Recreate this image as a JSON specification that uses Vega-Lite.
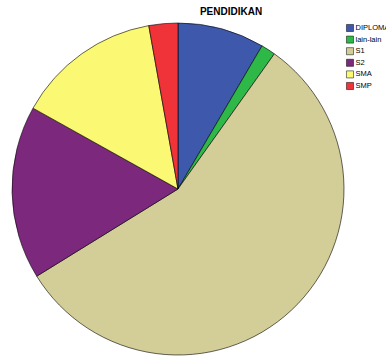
{
  "$schema": "https://vega.github.io/schema/vega-lite/v6.json",
  "width": 332,
  "height": 332,
  "autosize": "none",
  "padding": {"left": 12, "top": 23, "right": 42, "bottom": 1},
  "background": "white",
  "title": {
    "text": "PENDIDIKAN",
    "font": "Liberation Sans",
    "fontSize": 10,
    "fontWeight": "bold",
    "color": "#000000",
    "anchor": "middle",
    "dx": 53,
    "offset": 5
  },
  "data": {
    "values": [
      {"pendidikan": "DIPLOMA", "jumlah": 6, "urut": 1},
      {"pendidikan": "lain-lain", "jumlah": 1, "urut": 2},
      {"pendidikan": "S1", "jumlah": 40, "urut": 3},
      {"pendidikan": "S2", "jumlah": 12, "urut": 4},
      {"pendidikan": "SMA", "jumlah": 10, "urut": 5},
      {"pendidikan": "SMP", "jumlah": 2, "urut": 6}
    ]
  },
  "mark": {"type": "arc", "radius": 166, "stroke": "#000000", "strokeWidth": 0.6},
  "encoding": {
    "theta": {"field": "jumlah", "type": "quantitative", "stack": true},
    "order": {"field": "urut", "type": "quantitative"},
    "color": {
      "field": "pendidikan",
      "type": "nominal",
      "scale": {
        "domain": ["DIPLOMA", "lain-lain", "S1", "S2", "SMA", "SMP"],
        "range": ["#3E58AC", "#2EB848", "#D3CE97", "#7C287D", "#FBF873", "#EF3338"]
      },
      "legend": {
        "title": null,
        "orient": "none",
        "legendX": 334,
        "legendY": 1,
        "symbolType": "square",
        "symbolSize": 50,
        "symbolStrokeColor": "#000000",
        "symbolStrokeWidth": 0.5,
        "labelFont": "Liberation Sans",
        "labelFontSize": 7.5,
        "labelColor": "#000000",
        "labelOffset": 1.5,
        "rowPadding": 1.6,
        "padding": 0
      }
    }
  },
  "config": {"view": {"stroke": null}}
}
